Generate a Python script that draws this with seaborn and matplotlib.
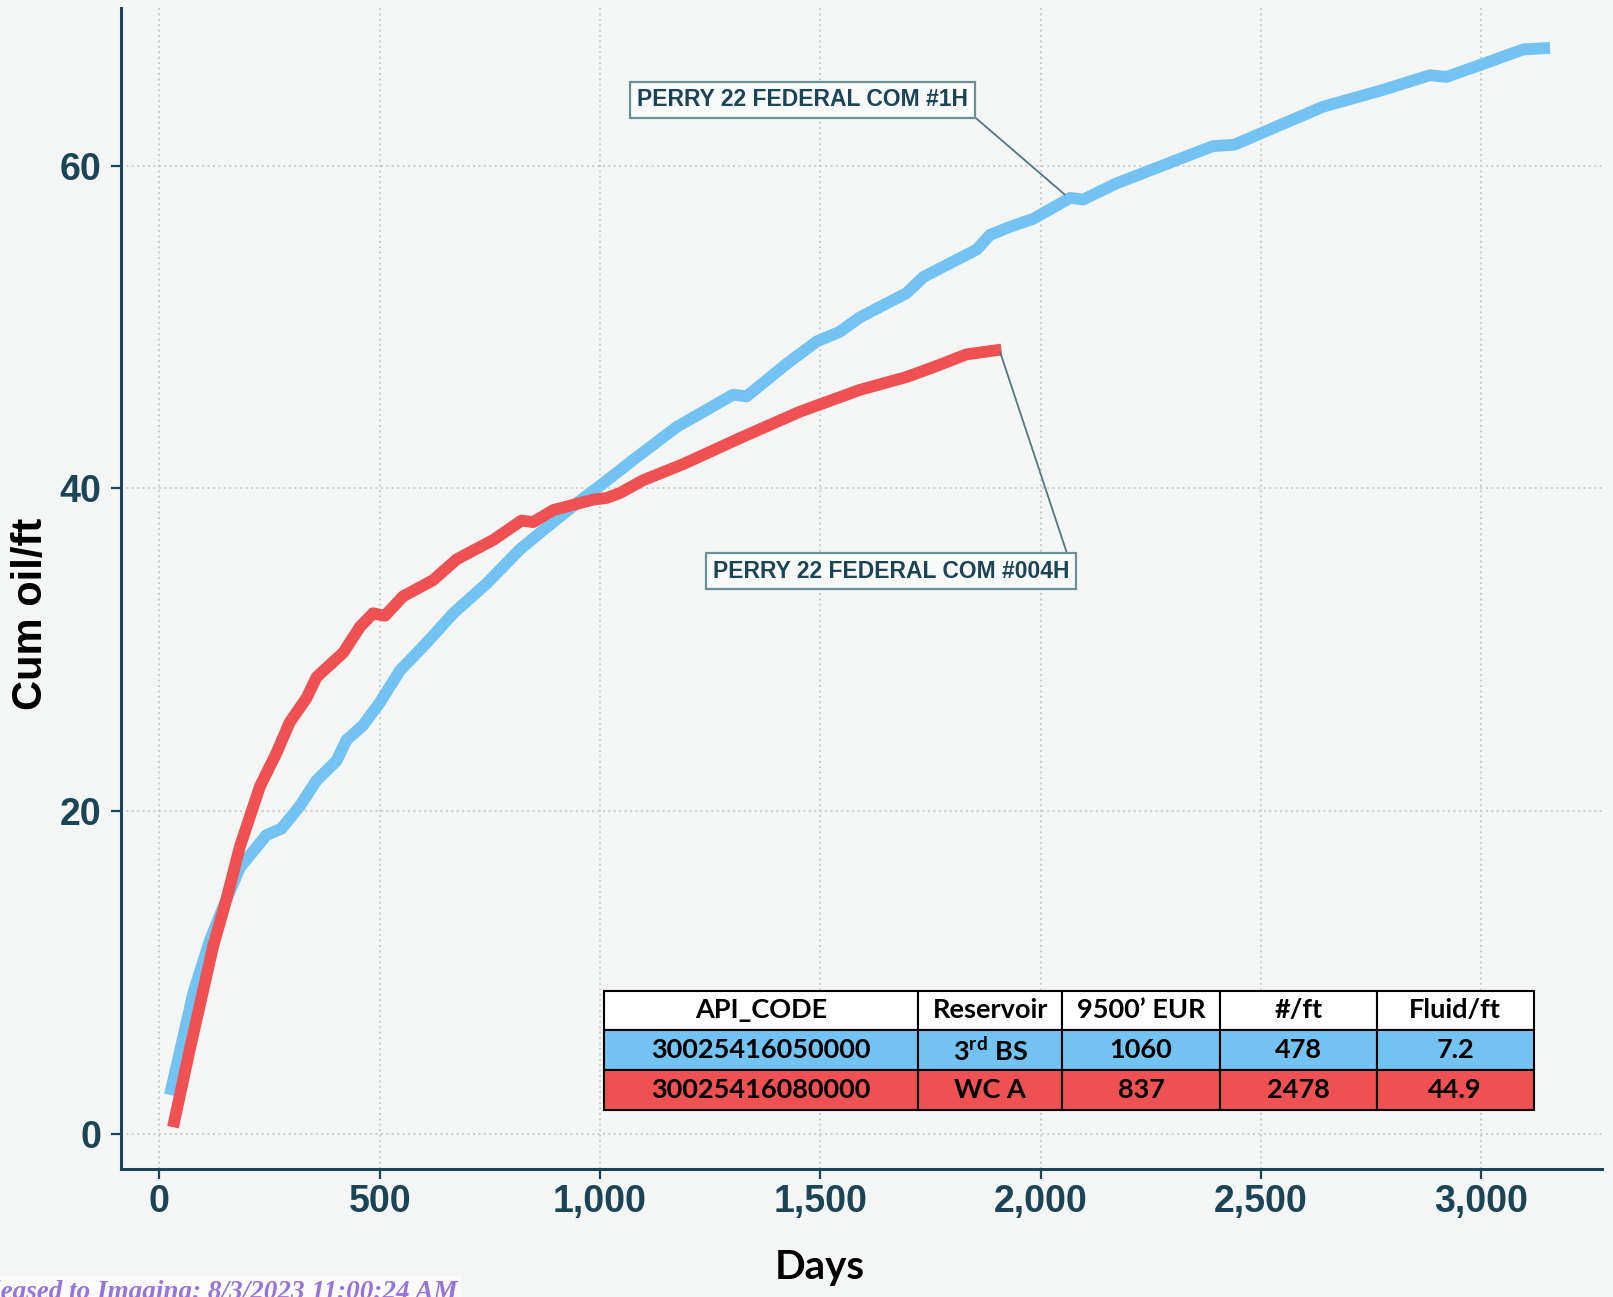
import numpy as np
import pandas as pd
import matplotlib
matplotlib.use("Agg")
import matplotlib.pyplot as plt
import seaborn as sns

# data
days_1h = [24, 46, 77, 115, 152, 183, 243, 277, 319, 357, 402, 425, 462, 500, 546, 606, 667, 743, 818,
           871, 947, 1007, 1075, 1174, 1302, 1333, 1423, 1492, 1544, 1590, 1696, 1734, 1855, 1885, 1930,
           1983, 2067, 2097, 2172, 2286, 2390, 2440, 2551, 2641, 2778, 2883, 2921, 3004, 3095, 3156]
cum_1h = [2.4, 5.0, 8.7, 12.0, 14.5, 16.5, 18.5, 18.9, 20.3, 21.9, 23.1, 24.4, 25.3, 26.7, 28.7, 30.4,
          32.25, 34.1, 36.2, 37.4, 39.07, 40.3, 41.75, 43.8, 45.8, 45.7, 47.7, 49.1, 49.7, 50.6, 52.1,
          53.1, 54.8, 55.7, 56.2, 56.7, 58.0, 57.9, 58.9, 60.1, 61.2, 61.3, 62.6, 63.65, 64.7, 65.6, 65.5,
          66.3, 67.2, 67.3]

days_004h = [31, 69, 122, 152, 183, 228, 266, 296, 334, 357, 417, 455, 485, 512, 553, 621, 675, 758, 822,
             848, 894, 985, 1015, 1045, 1098, 1189, 1325, 1454, 1590, 1696, 1756, 1832, 1911]
cum_004h = [0.4, 5.2, 11.6, 14.5, 17.8, 21.5, 23.6, 25.5, 27.0, 28.3, 29.8, 31.4, 32.25, 32.1, 33.3, 34.3,
            35.6, 36.8, 38.0, 37.9, 38.65, 39.3, 39.4, 39.7, 40.5, 41.5, 43.2, 44.75, 46.1, 46.9, 47.5,
            48.3, 48.6]

well_names = ["PERRY 22 FEDERAL COM #1H", "PERRY 22 FEDERAL COM #004H"]

table_header = ["API_CODE", "Reservoir", "9500\u2019 EUR", "#/ft", "Fluid/ft"]
api_codes = ["30025416050000", "30025416080000"]
reservoirs = ["3$^{\\mathrm{rd}}$ BS", "WC A"]
eur_9500 = ["1060", "837"]
lbs_per_ft = ["478", "2478"]
fluid_per_ft = ["7.2", "44.9"]

xticks = [0, 500, 1000, 1500, 2000, 2500, 3000]
yticks = [0, 20, 40, 60]

BLUE = "#73C3F2"
RED = "#EF5152"
BG = "#F4F6F5"
DARK = "#1B4456"

sns.set_theme(style="whitegrid")
plt.rcParams["font.family"] = ["Liberation Sans", "DejaVu Sans"]
plt.rcParams["mathtext.fontset"] = "custom"
plt.rcParams["mathtext.rm"] = "Lato:bold"
plt.rcParams["mathtext.bf"] = "Lato:bold"

fig = plt.figure(figsize=(16.13, 12.97), dpi=100, facecolor=BG)
ax = fig.add_axes([121 / 1613, 128.4 / 1297, 1481 / 1613, 1160.6 / 1297])
ax.set_facecolor(BG)

sns.lineplot(x=days_1h, y=cum_1h, ax=ax, color=BLUE, lw=8.5, estimator=None, sort=False,
             solid_capstyle="butt")
sns.lineplot(x=days_004h, y=cum_004h, ax=ax, color=RED, lw=8.5, estimator=None, sort=False,
             solid_capstyle="butt")

ax.set_xlim(-87, 3274)
ax.set_ylim(-2.17, 69.77)
ax.set_xticks(xticks)
ax.set_yticks(yticks)
ax.set_xticklabels([f"{v:,}" for v in xticks])
ax.set_yticklabels([str(v) for v in yticks])
ax.grid(True, color="#C4C8C8", lw=1.3, linestyle=(0, (1, 2)))
for s in ["top", "right"]:
    ax.spines[s].set_visible(False)
for s in ["left", "bottom"]:
    ax.spines[s].set_color(DARK)
    ax.spines[s].set_linewidth(2.2)
ax.tick_params(axis="both", direction="out", length=7, width=1.6, color=DARK,
               labelcolor=DARK, labelsize=27, left=True, bottom=True)
ax.tick_params(axis="x", pad=4)
ax.tick_params(axis="y", pad=7)
for lbl in ax.get_xticklabels() + ax.get_yticklabels():
    lbl.set_fontweight("bold")
ax.set_xlabel("")
ax.set_ylabel("")

fig.text(820 / 1613, 1 - 1267 / 1297, "Days", ha="center", va="center", fontsize=29,
         fontweight="bold", family="Lato", color="black")
fig.text(31 / 1613, 1 - 614 / 1297, "Cum oil/ft", ha="center", va="center", rotation=90,
         fontsize=30, fontweight="bold", color="black")

# well labels
box = dict(boxstyle="square,pad=0.3", fc="#F8FAFA", ec="#6F8E98", lw=1.6)
ax.annotate(well_names[0], xy=(2055, 58.2), xytext=(1460, 64.07), textcoords="data",
            ha="center", va="center", fontsize=16.5, fontweight="bold", color=DARK, bbox=box,
            arrowprops=dict(arrowstyle="-", color="#557580", lw=1.3, relpos=(1, 0),
                            shrinkA=0, shrinkB=0))
ax.annotate(well_names[1], xy=(1908, 48.45), xytext=(1660, 34.87), textcoords="data",
            ha="center", va="center", fontsize=16.5, fontweight="bold", color=DARK, bbox=box,
            arrowprops=dict(arrowstyle="-", color="#557580", lw=1.3, relpos=(1, 1),
                            shrinkA=0, shrinkB=0))

# summary table (drawn above the grid)
rows = [list(r) for r in zip(api_codes, reservoirs, eur_9500, lbs_per_ft, fluid_per_ft)]
cell_colors = [[BLUE] * 5, [RED] * 5]
tbl = ax.table(cellText=rows, colLabels=table_header, cellColours=cell_colors,
               colColours=["white"] * 5, colWidths=[0.338, 0.154, 0.170, 0.168, 0.169],
               cellLoc="center", bbox=[0.326, 0.0505, 0.628, 0.1029])
tbl.set_zorder(5)
tbl.auto_set_font_size(False)
for (r, c), cell in tbl.get_celld().items():
    cell.set_edgecolor("black")
    cell.set_linewidth(1.5)
    t = cell.get_text()
    t.set_fontsize(19.5)
    t.set_fontweight("bold")
    t.set_family("Lato")
    t.set_color("black")

# stamp at the bottom left, partly cut off by the page edge as in the scan
fig.text(458 / 1613, -2 / 1297, "Released to Imaging: 8/3/2023 11:00:24 AM", ha="right",
         va="baseline", fontsize=19.5, fontweight="bold", fontstyle="italic",
         family="Liberation Serif", color="#9575DB",
         bbox=dict(boxstyle="square,pad=0.15", fc="#FAFAFA", ec="none"))

fig.savefig("out.png", dpi=100, facecolor=BG)
